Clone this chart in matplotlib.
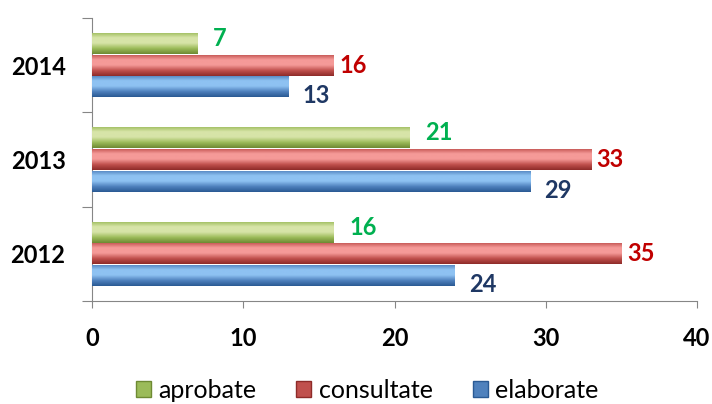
import matplotlib.pyplot as plt
import matplotlib.colors as mcolors
import numpy as np
from matplotlib.patches import Patch

years = ['2012', '2013', '2014']
elaborate = [24, 29, 13]
consultate = [35, 33, 16]
aprobate = [16, 21, 7]

plt.rcParams['font.family'] = ['Lato', 'DejaVu Sans']

fig = plt.figure(figsize=(7.12, 4.04), dpi=100)
ax = fig.add_axes([92 / 712, 1 - 301 / 404, 605 / 712, 283 / 404])

# (light top, base, dark bottom, label colour, label offset in pt)
styles = {
    'aprobate': ('#D7E4A8', '#9BBB59', '#6E8A33', '#00B050', (11, 3.5)),
    'consultate': ('#F59A98', '#C0504D', '#8E2B29', '#C00000', (4, 0)),
    'elaborate': ('#8EC2F2', '#4F81BD', '#2A5A94', '#1F3864', (10, -6.5)),
}
series = [('elaborate', elaborate), ('consultate', consultate), ('aprobate', aprobate)]

h = 0.225
centers = np.arange(len(years)) + 0.5
offsets = [-h - 0.005, 0, h + 0.005]

for (name, vals), off in zip(series, offsets):
    light, base, dark, tcol, (dx, dy) = styles[name]
    bars = ax.barh(centers + off, vals, height=h, color=base, edgecolor='none', zorder=2)
    cmap = mcolors.LinearSegmentedColormap.from_list(name, [dark, base, light, light, base])
    grad = np.linspace(0, 1, 64).reshape(-1, 1)
    for b, v in zip(bars, vals):
        x0, y0 = b.get_x(), b.get_y()
        im = ax.imshow(grad, extent=[x0, x0 + b.get_width(), y0, y0 + b.get_height()],
                       origin='lower', aspect='auto', cmap=cmap, zorder=3)
        im.set_clip_path(b)
        ax.annotate(str(v), (v, b.get_y() + b.get_height() / 2), xytext=(dx, dy),
                    textcoords='offset points', ha='left', va='center',
                    fontsize=17, fontweight='bold', color=tcol)

ax.set_xlim(0, 40)
ax.set_ylim(0, 3)
ax.set_xticks([0, 10, 20, 30, 40])
ax.set_yticks([0, 1, 2, 3])
ax.set_yticklabels([])
ax.set_yticks(centers, minor=True)
ax.set_yticklabels(years, minor=True)
ax.tick_params(axis='y', which='minor', length=0, pad=19, labelsize=17)
ax.tick_params(axis='y', which='major', length=7, color='#868686', direction='out')
ax.tick_params(axis='x', length=5, color='#868686', pad=14, labelsize=17)
for lab in ax.get_xticklabels() + ax.get_yticklabels(minor=True):
    lab.set_fontweight('bold')
for s in ['top', 'right']:
    ax.spines[s].set_visible(False)
for s in ['left', 'bottom']:
    ax.spines[s].set_color('#868686')

handles = [Patch(facecolor=styles[n][1], edgecolor=styles[n][2]) for n in ['aprobate', 'consultate', 'elaborate']]
fig.legend(handles, ['aprobate', 'consultate', 'elaborate'], loc='center',
           bbox_to_anchor=(367 / 712, 1 - 390 / 404), ncol=3, frameon=False,
           fontsize=18, handlelength=0.6, handleheight=0.6, handletextpad=0.3,
           columnspacing=1.6)

fig.savefig('out.png', dpi=100)
